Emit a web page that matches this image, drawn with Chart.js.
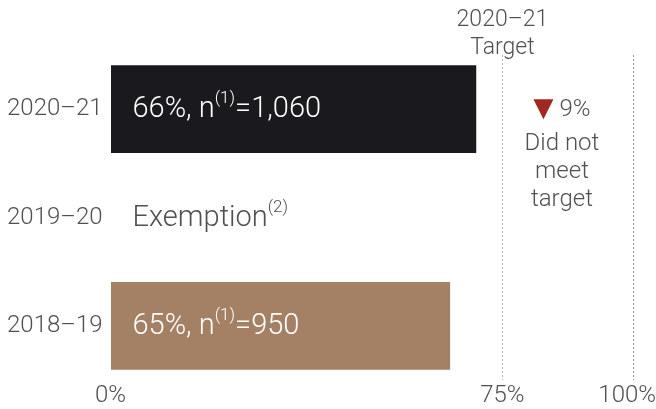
<!DOCTYPE html>
<html>
<head>
<meta charset="utf-8">
<script src="https://cdn.jsdelivr.net/npm/chart.js@4"></script>
<style>
  body { margin: 0; background: #fff; }
  #wrap { width: 656px; height: 409px; position: relative; }
</style>
</head>
<body>
<div id="wrap"><canvas id="targetChart"></canvas></div>
<script>
// chart data
const years = ['2020–21', '2019–20', '2018–19'];
const barValues = [70, null, 65];
const barLabels = [
    [['66%, n', ''], ['(1)', 'sup'], ['=1,060', '']],
    [['Exemption', ''], ['(2)', 'sup']],
    [['65%, n', ''], ['(1)', 'sup'], ['=950', '']]
];
const tickValues = [0, 75, 100];
const targetValue = 75;
const targetLabel = ['2020–21', 'Target'];
const gapText = '9%';
const gapNote = ['Did not', 'meet', 'target'];

const FONT = 'Roboto';
const GREY = '#505050';

// draws text inside bars, x tick labels and the target notes
const labelPlugin = {
    id: 'labelPlugin',
    afterDatasetsDraw(chart) {
        const ctx = chart.ctx;
        const x = chart.scales.x;
        const y = chart.scales.y;
        ctx.save();
        ctx.textBaseline = 'middle';
        ctx.textAlign = 'left';
        barLabels.forEach(function(parts, i) {
            let px = x.getPixelForValue(0) + 22;
            const py = y.getPixelForValue(i);
            ctx.fillStyle = barValues[i] === null ? GREY : '#ffffff';
            parts.forEach(function(p) {
                if (p[1] === 'sup') {
                    ctx.font = '300 17px ' + FONT;
                    ctx.fillText(p[0], px, py - 10);
                } else {
                    ctx.font = '300 29px ' + FONT;
                    ctx.fillText(p[0], px, py + 1);
                }
                px += ctx.measureText(p[0]).width;
            });
        });

        // x tick labels, last one kept inside the canvas
        ctx.fillStyle = GREY;
        ctx.font = '300 24px ' + FONT;
        tickValues.forEach(function(v) {
            const lbl = v + '%';
            const half = ctx.measureText(lbl).width / 2;
            let lx = x.getPixelForValue(v);
            if (lx + half > chart.width) lx = chart.width - half;
            ctx.textAlign = 'center';
            ctx.fillText(lbl, lx, 396);
        });

        // target label above the 75% line
        const tx = x.getPixelForValue(targetValue);
        ctx.textAlign = 'center';
        ctx.font = '300 23px ' + FONT;
        ctx.fillText(targetLabel[0], tx, 20);
        ctx.fillText(targetLabel[1], tx, 48);

        // gap note between target and 100%
        const cx = x.getPixelForValue(86.4);
        const cy = y.getPixelForValue(0);
        ctx.font = '300 24px ' + FONT;
        const w = ctx.measureText(gapText).width;
        const triW = 20;
        const startX = cx - (triW + 6 + w) / 2;
        ctx.fillStyle = '#a0281e';
        ctx.beginPath();
        ctx.moveTo(startX, cy - 10);
        ctx.lineTo(startX + triW, cy - 10);
        ctx.lineTo(startX + triW / 2, cy + 10);
        ctx.closePath();
        ctx.fill();
        ctx.fillStyle = GREY;
        ctx.textAlign = 'left';
        ctx.fillText(gapText, startX + triW + 6, cy + 1);
        ctx.textAlign = 'center';
        gapNote.forEach(function(t, k) {
            ctx.fillText(t, cx, cy + 35 + k * 28);
        });
        ctx.restore();
    }
};

const ctx = document.getElementById('targetChart').getContext('2d');
const targetChart = new Chart(ctx, {
    type: 'bar',
    data: {
        labels: years,
        datasets: [{
            data: barValues,
            backgroundColor: ['#1a191d', '#1a191d', '#a48064'],
            borderWidth: 0,
            barPercentage: 0.9,
            categoryPercentage: 0.9
        }]
    },
    options: {
        indexAxis: 'y',
        responsive: true,
        maintainAspectRatio: false,
        animation: false,
        layout: {
            padding: { top: 55, right: 23, bottom: 29, left: -1 }
        },
        plugins: {
            legend: { display: false },
            tooltip: { enabled: false }
        },
        scales: {
            x: {
                min: 0,
                max: 100,
                afterBuildTicks: function(axis) {
                    axis.ticks = tickValues.map(function(v) { return { value: v }; });
                },
                ticks: { display: false },
                grid: {
                    drawTicks: false,
                    color: function(c) {
                        if (c.tick && c.tick.value === 75) return '#b8b8b8';
                        if (c.tick && c.tick.value === 100) return '#9a9a9a';
                        return 'rgba(0,0,0,0)';
                    },
                    lineWidth: 1
                },
                border: { display: false, dash: [2, 2] }
            },
            y: {
                ticks: {
                    color: GREY,
                    font: { family: FONT, size: 24, weight: '300' },
                    padding: 8
                },
                grid: { display: false, drawTicks: false },
                border: { display: false }
            }
        }
    },
    plugins: [labelPlugin]
});
</script>
</body>
</html>
